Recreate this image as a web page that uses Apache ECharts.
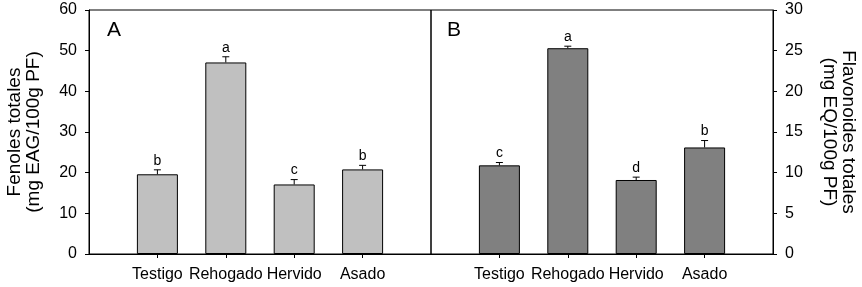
<!DOCTYPE html>
<html>
<head>
<meta charset="utf-8">
<script src="https://cdn.jsdelivr.net/npm/echarts@6/dist/echarts.min.js"></script>
<style>
html, body { margin: 0; padding: 0; background: #fff; }
#main { width: 862px; height: 287px; }
</style>
</head>
<body>
<div id="main"></div>
<script>
// categorias (con huecos vacios a los lados, como en el original)
var categories = ['', 'Testigo', 'Rehogado', 'Hervido', 'Asado', ''];

// panel A: fenoles totales (mg EAG/100g PF)
var fenoles = [19.6, 47.1, 17.1, 20.8];
var fenolesErr = [1.1, 1.4, 1.2, 1.0];
var fenolesLetras = ['b', 'a', 'c', 'b'];

// panel B: flavonoides totales (mg EQ/100g PF)
var flavonoides = [10.9, 25.3, 9.1, 13.1];
var flavonoidesErr = [0.35, 0.25, 0.35, 0.85];
var flavonoidesLetras = ['c', 'a', 'd', 'b'];

var FONT = 'Liberation Sans, Arial, sans-serif';

function padded(vals) {
    return ['-'].concat(vals).concat(['-']);
}

function errData(vals, errs) {
    return vals.map(function (v, i) { return [i + 1, v, errs[i]]; });
}

// barra de error (solo hacia arriba) + letra encima
function errorItem(letras) {
    return function (params, api) {
        var x = api.value(0), v = api.value(1), e = api.value(2);
        var p0 = api.coord([x, v]);
        var p1 = api.coord([x, v + e]);
        var st = { stroke: '#000', lineWidth: 1 };
        return {
            type: 'group',
            children: [
                { type: 'line', shape: { x1: p0[0], y1: p0[1], x2: p1[0], y2: p1[1] }, style: st },
                { type: 'line', shape: { x1: p1[0] - 3.5, y1: p1[1], x2: p1[0] + 3.5, y2: p1[1] }, style: st },
                {
                    type: 'text',
                    x: p1[0], y: p1[1] - 2,
                    style: {
                        text: letras[params.dataIndex],
                        fill: '#000',
                        font: '14px ' + FONT,
                        align: 'center',
                        verticalAlign: 'bottom'
                    }
                }
            ]
        };
    };
}

function xAxisFor(gridIndex) {
    return {
        type: 'category',
        gridIndex: gridIndex,
        data: categories,
        boundaryGap: false,
        axisLine: { lineStyle: { color: '#000', width: 1 } },
        axisTick: {
            length: 4,
            lineStyle: { color: '#000' },
            interval: function (i) { return i > 0 && i < 5; }
        },
        axisLabel: {
            color: '#000', fontSize: 16, fontFamily: FONT, margin: 13,
            interval: 0
        },
        splitLine: { show: false }
    };
}

var chart = echarts.init(document.getElementById('main'));

var option = {
    animation: false,
    backgroundColor: '#fff',
    grid: [
        { left: 89, top: 10, width: 342, height: 244, show: true, borderColor: '#000', borderWidth: 1 },
        { left: 431, top: 10, width: 342, height: 244, show: true, borderColor: '#000', borderWidth: 1 }
    ],
    xAxis: [xAxisFor(0), xAxisFor(1)],
    yAxis: [
        {
            type: 'value', gridIndex: 0, position: 'left',
            min: 0, max: 60, interval: 10,
            name: 'Fenoles totales\n(mg EAG/100g PF)',
            nameLocation: 'middle', nameGap: 46,
            nameTextStyle: { color: '#000', fontSize: 19, fontFamily: FONT, lineHeight: 19 },
            axisLine: { show: true, lineStyle: { color: '#000' } },
            axisTick: { show: true, length: 4, lineStyle: { color: '#000' } },
            axisLabel: { color: '#000', fontSize: 16, fontFamily: FONT, margin: 12 },
            splitLine: { show: false }
        },
        {
            type: 'value', gridIndex: 1, position: 'right',
            min: 0, max: 30, interval: 5,
            name: 'Flavonoides totales\n(mg EQ/100g PF)',
            nameLocation: 'middle', nameGap: 47, nameRotate: -90,
            nameTextStyle: { color: '#000', fontSize: 19, fontFamily: FONT, lineHeight: 19 },
            axisLine: { show: true, lineStyle: { color: '#000' } },
            axisTick: { show: true, length: 4, lineStyle: { color: '#000' } },
            axisLabel: { color: '#000', fontSize: 16, fontFamily: FONT, margin: 12 },
            splitLine: { show: false }
        }
    ],
    graphic: [
        { type: 'text', left: 107, top: 20, style: { text: 'A', fill: '#000', font: '21px ' + FONT } },
        { type: 'text', left: 447, top: 20, style: { text: 'B', fill: '#000', font: '21px ' + FONT } }
    ],
    series: [
        {
            type: 'bar', xAxisIndex: 0, yAxisIndex: 0,
            data: padded(fenoles), barWidth: 41,
            itemStyle: { color: '#c0c0c0', borderColor: '#000', borderWidth: 1 }
        },
        {
            type: 'custom', xAxisIndex: 0, yAxisIndex: 0,
            data: errData(fenoles, fenolesErr),
            renderItem: errorItem(fenolesLetras), z: 5
        },
        {
            type: 'bar', xAxisIndex: 1, yAxisIndex: 1,
            data: padded(flavonoides), barWidth: 41,
            itemStyle: { color: '#808080', borderColor: '#000', borderWidth: 1 }
        },
        {
            type: 'custom', xAxisIndex: 1, yAxisIndex: 1,
            data: errData(flavonoides, flavonoidesErr),
            renderItem: errorItem(flavonoidesLetras), z: 5
        }
    ]
};

chart.setOption(option);
</script>
</body>
</html>
